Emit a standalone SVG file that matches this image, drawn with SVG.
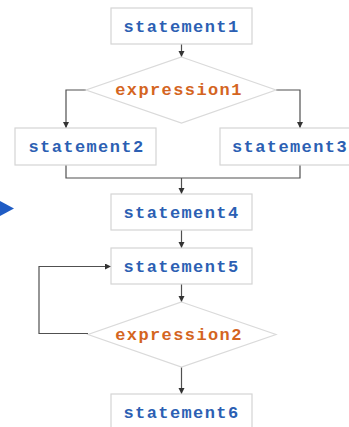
<svg xmlns="http://www.w3.org/2000/svg" width="349" height="427" viewBox="0 0 349 427">
  <defs>
    <style>
      .box { fill: #ffffff; stroke: #d4d4d4; stroke-width: 1.2; }
      .dia { fill: #ffffff; stroke: #dadada; stroke-width: 1.2; }
      .stmt { font-family: "Liberation Mono", "DejaVu Sans Mono", monospace; font-weight: bold; font-size: 17px; letter-spacing: 1.4px; fill: #2c5fb3; text-anchor: middle; }
      .expr { font-family: "Liberation Mono", "DejaVu Sans Mono", monospace; font-weight: bold; font-size: 17px; letter-spacing: 1.4px; fill: #d4651f; text-anchor: middle; }
      .edge { fill: none; stroke: #505050; stroke-width: 1.2; }
    </style>
    <marker id="arrow" markerUnits="userSpaceOnUse" markerWidth="8" markerHeight="8" refX="6" refY="3" orient="auto">
      <path d="M0,0 L6,3 L0,6 Z" fill="#333333"/>
    </marker>
  </defs>

  <rect width="349" height="427" fill="#ffffff"/>

  <!-- pointer on the left margin -->
  <polygon points="0,201 14,208.5 0,216" fill="#1f5cc4"/>

  <g id="connectors">
    <line class="edge" x1="181.5" y1="44" x2="181.5" y2="57" marker-end="url(#arrow)"/>
    <polyline class="edge" points="86,90 66,90 66,128" marker-end="url(#arrow)"/>
    <polyline class="edge" points="276,90 300,90 300,128" marker-end="url(#arrow)"/>
    <polyline class="edge" points="66,165 66,178 300,178 300,165"/>
    <line class="edge" x1="181.5" y1="178" x2="181.5" y2="194" marker-end="url(#arrow)"/>
    <line class="edge" x1="181.5" y1="230" x2="181.5" y2="248" marker-end="url(#arrow)"/>
    <line class="edge" x1="181.5" y1="284" x2="181.5" y2="302" marker-end="url(#arrow)"/>
    <polyline class="edge" points="88,333.5 39,333.5 39,266.5 111,266.5" marker-end="url(#arrow)"/>
    <line class="edge" x1="181.5" y1="367" x2="181.5" y2="394" marker-end="url(#arrow)"/>
  </g>

  <g id="statement1">
    <rect class="box" x="111" y="8" width="141" height="36"/>
    <text class="stmt" x="181.5" y="32">statement1</text>
  </g>

  <g id="expression1">
    <polygon class="dia" points="181.5,57 276,90 181.5,123 86,90"/>
    <text class="expr" x="179" y="95">expression1</text>
  </g>

  <g id="statement2">
    <rect class="box" x="15" y="128" width="141" height="37"/>
    <text class="stmt" x="86.5" y="152">statement2</text>
  </g>

  <g id="statement3">
    <rect class="box" x="220" y="128" width="141" height="37"/>
    <text class="stmt" x="290" y="152">statement3</text>
  </g>

  <g id="statement4">
    <rect class="box" x="111" y="194" width="141" height="36"/>
    <text class="stmt" x="181.5" y="218">statement4</text>
  </g>

  <g id="statement5">
    <rect class="box" x="111" y="248" width="141" height="36"/>
    <text class="stmt" x="181.5" y="272">statement5</text>
  </g>

  <g id="expression2">
    <polygon class="dia" points="181.5,302 276,334.5 181.5,367 88,334.5"/>
    <text class="expr" x="179" y="340">expression2</text>
  </g>

  <g id="statement6">
    <rect class="box" x="111" y="394" width="141" height="38"/>
    <text class="stmt" x="181.5" y="418">statement6</text>
  </g>
</svg>
